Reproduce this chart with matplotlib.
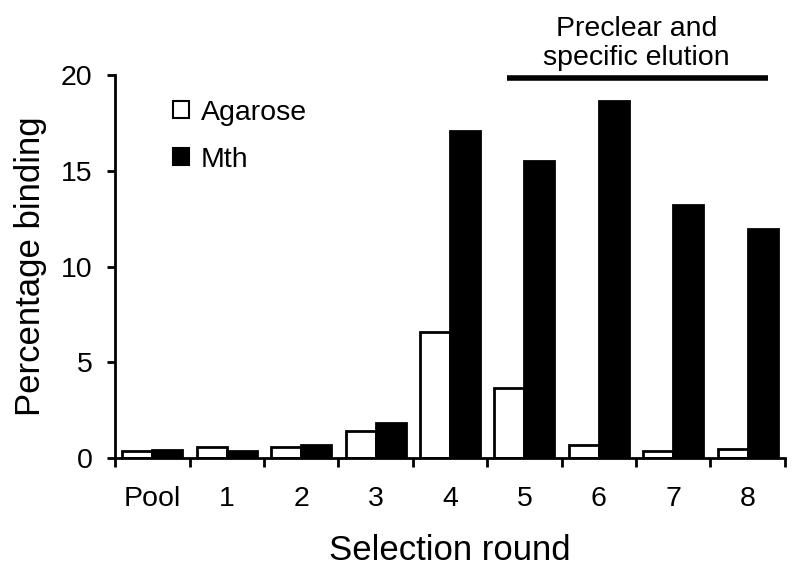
import matplotlib
matplotlib.use("Agg")
import matplotlib.pyplot as plt
import numpy as np

categories = ["Pool", "1", "2", "3", "4", "5", "6", "7", "8"]
agarose = [0.35, 0.6, 0.57, 1.4, 6.6, 3.65, 0.7, 0.37, 0.47]
mth = [0.45, 0.35, 0.7, 1.85, 17.05, 15.5, 18.65, 13.2, 11.95]
yticks = [0, 5, 10, 15, 20]

plt.rcParams['font.family'] = ['Liberation Sans', 'DejaVu Sans']

fig = plt.figure(figsize=(8, 5.72), dpi=100)
ax = fig.add_axes([0.144, 0.199, 0.837, 0.67])

x = np.arange(len(categories))
w = 0.403
ax.bar(x - w/2, agarose, w, color='white', edgecolor='black', linewidth=2, label='Agarose')
ax.bar(x + w/2, mth, w, color='black', edgecolor='black', linewidth=2, label='Mth')

ax.set_xlim(-0.5, len(categories) - 0.5)
ax.set_ylim(0, 20)
ax.set_yticks(yticks)
ax.set_yticklabels([str(v) for v in yticks], fontsize=20.5)
ax.set_xticks(x)
ax.set_xticklabels(categories, fontsize=20.5)
ax.set_xticks(np.arange(len(categories) + 1) - 0.5, minor=True)
ax.tick_params(axis='x', which='major', length=0, pad=20)
ax.tick_params(axis='x', which='minor', length=6.5, width=2, direction='out')
ax.tick_params(axis='y', length=5.8, width=2, direction='out', pad=10.5)

for s in ['top', 'right']:
    ax.spines[s].set_visible(False)
for s in ['left', 'bottom']:
    ax.spines[s].set_linewidth(2)

ax.set_ylabel('Percentage binding', fontsize=25, labelpad=10)
ax.set_xlabel('Selection round', fontsize=25, labelpad=16)

leg = ax.legend(loc='upper left', bbox_to_anchor=(0.07, 0.965), frameon=False,
                fontsize=20.5, handlelength=0.55, handleheight=0.55,
                handletextpad=0.4, labelspacing=0.73, borderaxespad=0)
for h in leg.legend_handles:
    h.set_linewidth(1.5)

ax.plot([4.77, 8.27], [19.85, 19.85], color='black', linewidth=4, clip_on=False,
        solid_capstyle='butt')
ax.text(6.51, 20.2, 'Preclear and\nspecific elution', ha='center', va='bottom',
        fontsize=20.5, linespacing=1.15)

fig.savefig('out.png', dpi=100)
